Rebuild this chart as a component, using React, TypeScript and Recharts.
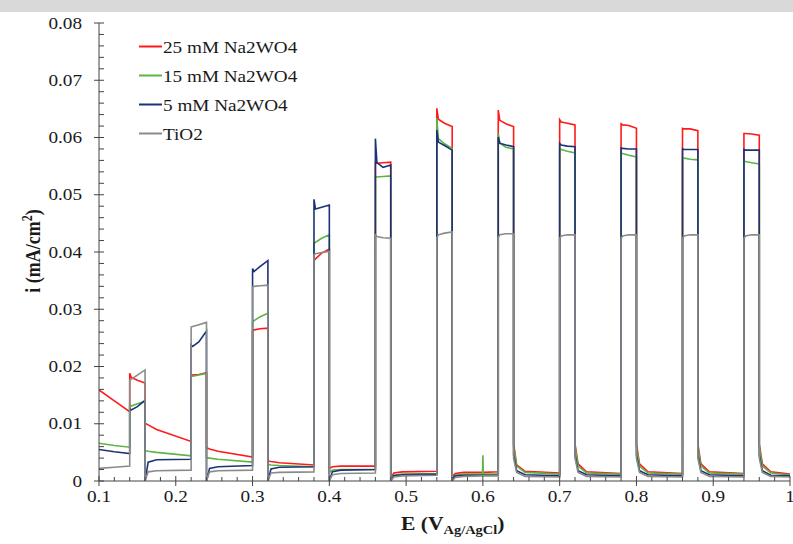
import React from 'react';
import { LineChart, Line, XAxis, YAxis } from 'recharts';

// Potential (V vs Ag/AgCl) – shared sampling grid for all series
const xs = [
  0.1, 0.12, 0.14,
  0.14, 0.142, 0.15, 0.16, 0.16, 0.164, 0.175, 0.22,
  0.22, 0.222, 0.23, 0.24, 0.24, 0.244, 0.255, 0.3,
  0.3, 0.302, 0.31, 0.32, 0.32, 0.324, 0.335, 0.38,
  0.38, 0.382, 0.39, 0.4, 0.4, 0.404, 0.415, 0.46,
  0.46, 0.462, 0.47, 0.48, 0.48, 0.484, 0.495, 0.54,
  0.54, 0.542, 0.55, 0.56, 0.56, 0.564, 0.575, 0.5995, 0.6, 0.6005, 0.62,
  0.62, 0.622, 0.63, 0.64, 0.64, 0.644, 0.655, 0.7,
  0.7, 0.702, 0.71, 0.72, 0.72, 0.724, 0.735, 0.78,
  0.78, 0.782, 0.79, 0.8, 0.8, 0.804, 0.815, 0.86,
  0.86, 0.862, 0.87, 0.88, 0.88, 0.884, 0.895, 0.94,
  0.94, 0.942, 0.95, 0.96, 0.96, 0.964, 0.975, 1.0,
];

// Current density (mA/cm²)
const na25 = [
  0.0159, 0.0140, 0.0121,
  0.0188, 0.0181, 0.0176, 0.0171, 0.0101, 0.0098, 0.0090, 0.0069,
  0.0186, 0.0185, 0.0186, 0.0189, 0.0058, 0.0056, 0.0052, 0.0042,
  0.0262, 0.0264, 0.0266, 0.0267, 0.0035, 0.0034, 0.0032, 0.0028,
  0.0385, 0.0388, 0.0398, 0.0405, 0.0022, 0.0025, 0.0026, 0.0026,
  0.0556, 0.0555, 0.0556, 0.0557, 0.0005, 0.0014, 0.0016, 0.0017,
  0.0651, 0.0632, 0.0625, 0.0619, 0.0008, 0.0013, 0.0015, 0.0015, 0.0015, 0.0015, 0.0016,
  0.0648, 0.0630, 0.0624, 0.0619, 0.0065, 0.0028, 0.0017, 0.0014,
  0.0631, 0.0627, 0.0625, 0.0622, 0.0065, 0.0030, 0.0016, 0.0013,
  0.0624, 0.0622, 0.0621, 0.0616, 0.0065, 0.0030, 0.0016, 0.0013,
  0.0616, 0.0615, 0.0615, 0.0612, 0.0065, 0.0030, 0.0016, 0.0013,
  0.0607, 0.0607, 0.0606, 0.0604, 0.0065, 0.0030, 0.0016, 0.0012,
];

const na15 = [
  0.0066, 0.0062, 0.0059,
  0.0133, 0.0131, 0.0135, 0.0139, 0.0053, 0.0052, 0.0050, 0.0044,
  0.0184, 0.0183, 0.0185, 0.0188, 0.0041, 0.0040, 0.0038, 0.0033,
  0.0278, 0.0280, 0.0287, 0.0293, 0.0029, 0.0028, 0.0027, 0.0025,
  0.0415, 0.0417, 0.0424, 0.0430, 0.0015, 0.0019, 0.0020, 0.0020,
  0.0532, 0.0531, 0.0532, 0.0533, 0.0003, 0.0010, 0.0012, 0.0013,
  0.0634, 0.0598, 0.0589, 0.0581, 0.0005, 0.0010, 0.0012, 0.0012, 0.0045, 0.0012, 0.0012,
  0.0607, 0.0590, 0.0583, 0.0580, 0.0060, 0.0026, 0.0015, 0.0012,
  0.0581, 0.0579, 0.0576, 0.0573, 0.0060, 0.0026, 0.0014, 0.0012,
  0.0573, 0.0572, 0.0569, 0.0566, 0.0060, 0.0026, 0.0014, 0.0012,
  0.0564, 0.0564, 0.0562, 0.0561, 0.0060, 0.0026, 0.0014, 0.0012,
  0.0558, 0.0558, 0.0556, 0.0554, 0.0060, 0.0026, 0.0014, 0.0011,
];

const na5 = [
  0.0055, 0.0051, 0.0048,
  0.0127, 0.0124, 0.0130, 0.0141, 0.0000, 0.0033, 0.0037, 0.0038,
  0.0238, 0.0235, 0.0243, 0.0262, 0.0000, 0.0022, 0.0025, 0.0027,
  0.0371, 0.0366, 0.0375, 0.0385, 0.0000, 0.0021, 0.0024, 0.0025,
  0.0492, 0.0475, 0.0478, 0.0482, 0.0000, 0.0016, 0.0019, 0.0020,
  0.0598, 0.0556, 0.0548, 0.0552, 0.0000, 0.0009, 0.0011, 0.0012,
  0.0613, 0.0592, 0.0586, 0.0578, 0.0003, 0.0009, 0.0010, 0.0010, 0.0010, 0.0010, 0.0010,
  0.0601, 0.0590, 0.0587, 0.0584, 0.0045, 0.0018, 0.0011, 0.0009,
  0.0590, 0.0587, 0.0585, 0.0584, 0.0045, 0.0018, 0.0011, 0.0009,
  0.0582, 0.0581, 0.0580, 0.0580, 0.0045, 0.0018, 0.0011, 0.0009,
  0.0580, 0.0579, 0.0579, 0.0579, 0.0045, 0.0018, 0.0011, 0.0009,
  0.0579, 0.0578, 0.0578, 0.0578, 0.0045, 0.0018, 0.0010, 0.0009,
];

const tio2 = [
  0.0022, 0.0024, 0.0026,
  0.0176, 0.0178, 0.0185, 0.0194, 0.0000, 0.0016, 0.0018, 0.0019,
  0.0269, 0.0270, 0.0273, 0.0277, 0.0000, 0.0016, 0.0018, 0.0019,
  0.0339, 0.0340, 0.0341, 0.0342, 0.0000, 0.0014, 0.0015, 0.0016,
  0.0395, 0.0397, 0.0399, 0.0401, 0.0000, 0.0011, 0.0013, 0.0014,
  0.0430, 0.0427, 0.0425, 0.0424, 0.0000, 0.0007, 0.0009, 0.0010,
  0.0425, 0.0430, 0.0433, 0.0435, 0.0000, 0.0006, 0.0008, 0.0009, 0.0009, 0.0009, 0.0009,
  0.0425, 0.0430, 0.0432, 0.0432, 0.0040, 0.0015, 0.0008, 0.0007,
  0.0424, 0.0428, 0.0430, 0.0430, 0.0040, 0.0015, 0.0008, 0.0007,
  0.0424, 0.0428, 0.0430, 0.0430, 0.0040, 0.0015, 0.0008, 0.0007,
  0.0424, 0.0428, 0.0430, 0.0430, 0.0040, 0.0015, 0.0008, 0.0007,
  0.0424, 0.0428, 0.0430, 0.0430, 0.0040, 0.0015, 0.0008, 0.0007,
];

const seriesNames = ['25 mM Na2WO4', '15 mM Na2WO4', '5 mM Na2WO4', 'TiO2'];
const seriesKeys = ['na25', 'na15', 'na5', 'tio2'];
const seriesColors = ['#ff1a1a', '#5db443', '#1c3378', '#8a8a8a'];

const xTicks = [
  0.1, 0.12, 0.14, 0.16, 0.18, 0.2, 0.22, 0.24, 0.26, 0.28, 0.3, 0.32, 0.34, 0.36, 0.38,
  0.4, 0.42, 0.44, 0.46, 0.48, 0.5, 0.52, 0.54, 0.56, 0.58, 0.6, 0.62, 0.64, 0.66, 0.68,
  0.7, 0.72, 0.74, 0.76, 0.78, 0.8, 0.82, 0.84, 0.86, 0.88, 0.9, 0.92, 0.94, 0.96, 0.98, 1.0,
];
const xMajor = [0.1, 0.2, 0.3, 0.4, 0.5, 0.6, 0.7, 0.8, 0.9, 1.0];
const xLabels = ['0.1', '0.2', '0.3', '0.4', '0.5', '0.6', '0.7', '0.8', '0.9', '1'];

const yTicks = [
  0, 0.002, 0.004, 0.006, 0.008, 0.01, 0.012, 0.014, 0.016, 0.018, 0.02,
  0.022, 0.024, 0.026, 0.028, 0.03, 0.032, 0.034, 0.036, 0.038, 0.04,
  0.042, 0.044, 0.046, 0.048, 0.05, 0.052, 0.054, 0.056, 0.058, 0.06,
  0.062, 0.064, 0.066, 0.068, 0.07, 0.072, 0.074, 0.076, 0.078, 0.08,
];
const yMajor = [0, 0.01, 0.02, 0.03, 0.04, 0.05, 0.06, 0.07, 0.08];
const yLabels = ['0', '0.01', '0.02', '0.03', '0.04', '0.05', '0.06', '0.07', '0.08'];

const rows = xs.map((x, i) => ({ x, na25: na25[i], na15: na15[i], na5: na5[i], tio2: tio2[i] }));

const FONT = '"Liberation Serif", "Times New Roman", serif';
const AXIS = '#444';
const TXT = '#1a1a1a';

const XTick = (props: any) => {
  const { x, y, payload } = props;
  const idx = xMajor.findIndex((m) => Math.abs(m - payload.value) < 1e-9);
  if (idx < 0) return <line x1={x} x2={x} y1={y - 4} y2={y} stroke={AXIS} strokeWidth={1} />;
  return (
    <g>
      <line x1={x} x2={x} y1={y - 5} y2={y + 5} stroke={AXIS} strokeWidth={1} />
      <text
        transform={`translate(${x},${y + 21}) scale(1.2,1)`}
        textAnchor="middle"
        fontFamily={FONT}
        fontSize={16}
        fill={TXT}
      >
        {xLabels[idx]}
      </text>
    </g>
  );
};

const YTick = (props: any) => {
  const { x, y, payload } = props;
  const idx = yMajor.findIndex((m) => Math.abs(m - payload.value) < 1e-9);
  if (idx < 0) return <line x1={x} x2={x + 5} y1={y} y2={y} stroke={AXIS} strokeWidth={1} />;
  return (
    <g>
      <line x1={x - 5} x2={x + 5} y1={y} y2={y} stroke={AXIS} strokeWidth={1} />
      <text
        transform={`translate(${x - 17},${y + 5.5}) scale(1.2,1)`}
        textAnchor="end"
        fontFamily={FONT}
        fontSize={16}
        fill={TXT}
      >
        {yLabels[idx]}
      </text>
    </g>
  );
};

export default function App() {
  return (
    <div style={{ position: 'absolute', left: 0, top: 0, width: 793, height: 544, background: '#fff' }}>
      <LineChart
        width={793}
        height={544}
        data={rows}
        margin={{ top: 23, right: 3, bottom: 0, left: 0 }}
      >
        <XAxis
          type="number"
          dataKey="x"
          domain={[0.1, 1]}
          ticks={xTicks}
          interval={0}
          height={63}
          tickSize={0}
          tickMargin={0}
          tickLine={false}
          tick={<XTick />}
          axisLine={{ stroke: AXIS, strokeWidth: 1 }}
          allowDataOverflow
        />
        <YAxis
          type="number"
          domain={[0, 0.08]}
          ticks={yTicks}
          interval={0}
          width={99}
          tickSize={0}
          tickMargin={0}
          tickLine={false}
          tick={<YTick />}
          axisLine={{ stroke: AXIS, strokeWidth: 1 }}
          allowDataOverflow
        />
        {seriesKeys.map((k, i) => (
          <Line
            key={k}
            type="linear"
            dataKey={k}
            stroke={seriesColors[i]}
            strokeWidth={1.6}
            dot={false}
            isAnimationActive={false}
          />
        ))}
      </LineChart>
      <svg
        width={793}
        height={544}
        style={{ position: 'absolute', left: 0, top: 0, pointerEvents: 'none' }}
      >
        <rect x={0} y={0} width={793} height={12} fill="#d9d9d9" />
        {seriesNames.map((n, i) => (
          <g key={n}>
            <line x1={139} x2={162} y1={46.5 + i * 29} y2={46.5 + i * 29} stroke={seriesColors[i]} strokeWidth={2} />
            <text
              transform={`translate(163,${53 + i * 29}) scale(1.2,1)`}
              fontFamily={FONT}
              fontSize={16}
              fill={TXT}
            >
              {n}
            </text>
          </g>
        ))}
        <text
          transform="translate(401,530) scale(1.2,1)"
          fontFamily={FONT}
          fontSize={18}
          fontWeight="bold"
          fill={TXT}
        >
          E (V
          <tspan fontSize={12} dy={4}>Ag/AgCl</tspan>
          <tspan dy={-4}>)</tspan>
        </text>
        <text
          transform="translate(40,251) rotate(-90) scale(1,1.2)"
          textAnchor="middle"
          fontFamily={FONT}
          fontSize={18}
          fontWeight="bold"
          fill={TXT}
        >
          i (mA/cm
          <tspan fontSize={12} dy={-7}>2</tspan>
          <tspan dy={7}>)</tspan>
        </text>
      </svg>
    </div>
  );
}
